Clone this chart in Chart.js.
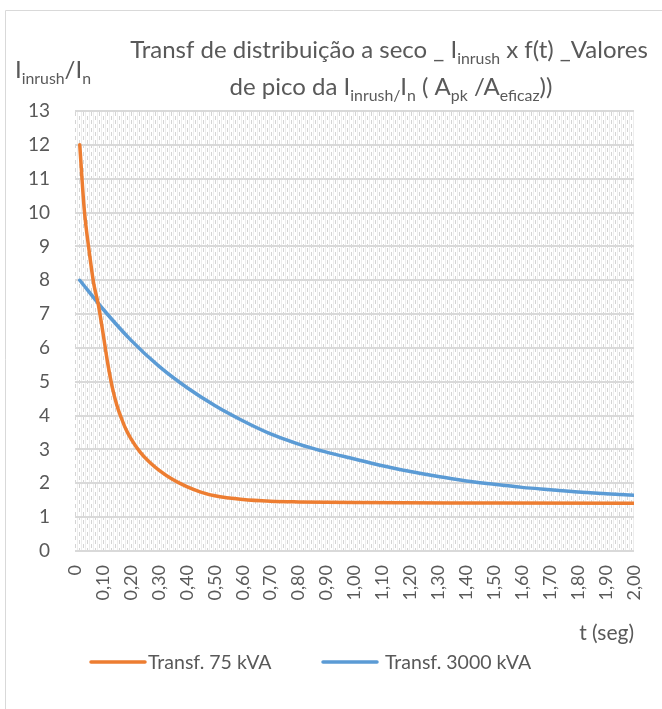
<!DOCTYPE html>
<html>
<head>
<meta charset="utf-8">
<script src="https://cdn.jsdelivr.net/npm/chart.js@4/dist/chart.umd.min.js"></script>
<style>
  html, body { margin: 0; padding: 0; background: #ffffff; }
  #wrap { width: 662px; height: 709px; position: relative; }
</style>
</head>
<body>
<div id="wrap"><canvas id="chart" width="662" height="709"></canvas></div>
<script>
// Peak inrush current (I_inrush / I_n) against time in seconds
const seriesNames = ['Transf. 75 kVA', 'Transf. 3000 kVA'];

const t75 = [0.017, 0.033, 0.05, 0.067, 0.083, 0.10, 0.117, 0.133, 0.15, 0.167, 0.183, 0.20,
             0.233, 0.267, 0.30, 0.35, 0.40, 0.45, 0.50, 0.60, 0.70, 0.80, 1.00, 1.50, 2.00];
const i75 = [12.0, 10.1, 8.9, 7.9, 7.3, 6.45, 5.55, 4.85, 4.3, 3.9, 3.58, 3.32,
             2.92, 2.62, 2.39, 2.11, 1.9, 1.74, 1.63, 1.52, 1.47, 1.45, 1.43, 1.42, 1.414];

const t3000 = [0.017, 0.10, 0.20, 0.30, 0.40, 0.50, 0.60, 0.70, 0.80, 0.90, 1.00,
               1.10, 1.20, 1.30, 1.40, 1.50, 1.60, 1.70, 1.80, 1.90, 2.00];
const i3000 = [8.0, 7.15, 6.23, 5.46, 4.83, 4.30, 3.85, 3.46, 3.16, 2.92, 2.72,
               2.52, 2.35, 2.20, 2.07, 1.97, 1.88, 1.81, 1.745, 1.69, 1.65];

// Axis ranges and tick steps
const tMin = 0, tMax = 2, tStep = 0.1;
const yMin = 0, yMax = 13, yStep = 1;

// Titles (text pieces, second flag = subscript)
const titleLine1 = [['Transf de distribuição a seco _ I', false], ['inrush', true], [' x f(t) _Valores', false]];
const titleLine2 = [['de pico da I', false], ['inrush/', true], ['I', false], ['n', true], [' ( A', false], ['pk', true], [' /A', false], ['eficaz', true], ['))', false]];
const yTitle = [['I', false], ['inrush', true], ['/I', false], ['n', true]];
const xTitle = 't (seg)';

const TEXT = '#595959';
const GRID = '#d9d9d9';
const FONT = 'Lato, "Open Sans", sans-serif';
const colors = ['#ED7D31', '#5B9BD5'];

function pairs(xs, ys) { return xs.map((x, i) => ({ x: x, y: ys[i] })); }

function hatchPattern(ctx) {
  const c = document.createElement('canvas');
  c.width = 8; c.height = 8;
  const g = c.getContext('2d');
  g.fillStyle = '#ffffff'; g.fillRect(0, 0, 8, 8);
  g.fillStyle = '#ededed'; g.fillRect(1, 0, 1, 8); g.fillRect(5, 0, 1, 8);
  g.fillStyle = '#d4d4d4';
  g.fillRect(3, 0, 1, 4); g.fillRect(7, 4, 1, 4);
  return ctx.createPattern(c, 'repeat');
}

function drawRich(ctx, parts, x, baseline, size, align) {
  const sub = size * 0.66;
  const widths = parts.map(([t, s]) => {
    ctx.font = (s ? sub : size) + 'px ' + FONT;
    return ctx.measureText(t).width;
  });
  const total = widths.reduce((a, b) => a + b, 0);
  let cx = align === 'center' ? x - total / 2 : x;
  ctx.textAlign = 'left';
  ctx.textBaseline = 'alphabetic';
  parts.forEach(([t, s], i) => {
    ctx.font = (s ? sub : size) + 'px ' + FONT;
    ctx.fillText(t, cx, baseline + (s ? size * 0.26 : 0));
    cx += widths[i];
  });
}

const decorations = {
  id: 'decorations',
  beforeDraw(chart) {
    const { ctx, chartArea: a } = chart;
    ctx.save();
    ctx.fillStyle = hatchPattern(ctx);
    ctx.fillRect(a.left, a.top, a.right - a.left, a.bottom - a.top);
    ctx.restore();
  },
  afterDraw(chart) {
    const { ctx } = chart;
    ctx.save();
    // outer frame
    ctx.strokeStyle = GRID;
    ctx.lineWidth = 1;
    ctx.beginPath();
    ctx.moveTo(5.5, 709); ctx.lineTo(5.5, 10.5); ctx.lineTo(662, 10.5);
    ctx.stroke();

    ctx.fillStyle = TEXT;
    drawRich(ctx, titleLine1, 389, 58, 24, 'center');
    drawRich(ctx, titleLine2, 391, 95, 24, 'center');
    drawRich(ctx, yTitle, 15, 78, 24, 'left');

    ctx.font = '21px ' + FONT;
    ctx.textAlign = 'right';
    ctx.textBaseline = 'middle';
    ctx.fillText(xTitle, 634, 633);

    // legend
    const items = [{ x0: 91, x1: 145, tx: 148 }, { x0: 323, x1: 377, tx: 385 }];
    items.forEach((it, i) => {
      ctx.strokeStyle = colors[i];
      ctx.lineWidth = 3.5;
      ctx.lineCap = 'round';
      ctx.beginPath();
      ctx.moveTo(it.x0, 662); ctx.lineTo(it.x1, 662);
      ctx.stroke();
      ctx.fillStyle = TEXT;
      ctx.font = '19.5px ' + FONT;
      ctx.textAlign = 'left';
      ctx.textBaseline = 'middle';
      ctx.fillText(seriesNames[i], it.tx, 663);
    });
    ctx.restore();
  }
};

const lineStyle = (i) => ({
  borderColor: colors[i],
  backgroundColor: colors[i],
  borderWidth: 3.5,
  pointRadius: 0,
  pointHoverRadius: 0,
  fill: false,
  tension: 0.4,
  cubicInterpolationMode: 'monotone',
  borderCapStyle: 'round',
  borderJoinStyle: 'round'
});

new Chart(document.getElementById('chart'), {
  type: 'line',
  data: {
    datasets: [
      Object.assign({ label: seriesNames[0], data: pairs(t75, i75) }, lineStyle(0)),
      Object.assign({ label: seriesNames[1], data: pairs(t3000, i3000) }, lineStyle(1))
    ]
  },
  options: {
    responsive: false,
    animation: false,
    devicePixelRatio: 1,
    layout: { padding: { top: 111, right: 28, left: 0, bottom: 0 } },
    plugins: { legend: { display: false }, title: { display: false }, tooltip: { enabled: false } },
    scales: {
      x: {
        type: 'linear',
        min: tMin, max: tMax,
        afterFit(scale) {
          scale.height = 158;
          scale.paddingLeft = 0;
          scale.paddingRight = 0;
        },
        grid: { display: false, drawTicks: false },
        border: { display: false },
        ticks: {
          stepSize: tStep,
          autoSkip: false,
          minRotation: 90,
          maxRotation: 90,
          padding: 14,
          color: TEXT,
          font: { family: FONT, size: 18 },
          callback: (v) => Math.abs(v) < 1e-9 ? '0' : Number(v).toFixed(2).replace('.', ',')
        }
      },
      y: {
        min: yMin, max: yMax,
        afterFit(scale) {
          scale.width = 75;
          scale.paddingTop = 0;
          scale.paddingBottom = 0;
        },
        grid: { color: GRID, lineWidth: 2, drawTicks: false },
        border: { display: false },
        ticks: {
          stepSize: yStep,
          padding: 25,
          color: TEXT,
          font: { family: FONT, size: 19 }
        }
      }
    }
  },
  plugins: [decorations]
});
</script>
</body>
</html>
